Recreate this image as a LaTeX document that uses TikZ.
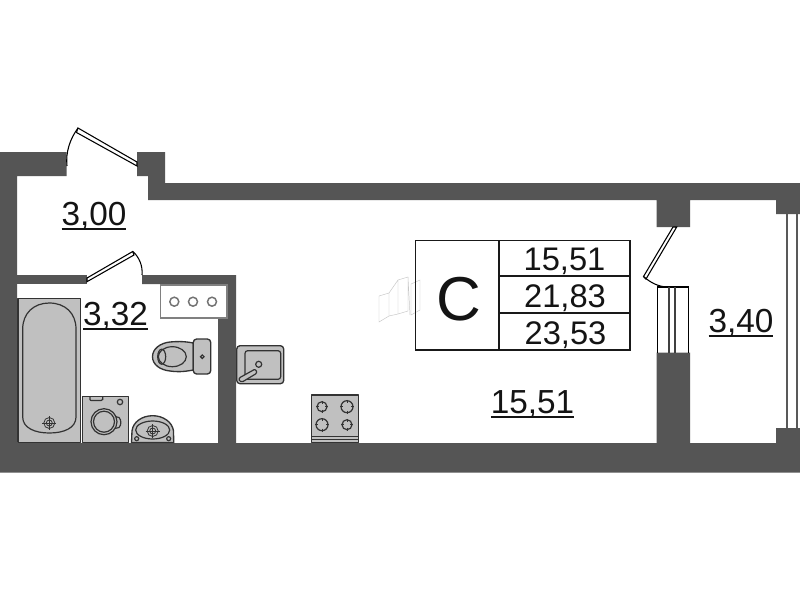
\documentclass[tikz,border=0pt]{standalone}
\usepackage{fontspec}
\setmainfont{Liberation Sans}
\definecolor{wall}{HTML}{555555}
\definecolor{fix}{HTML}{C0C0C0}
\definecolor{ink}{HTML}{333333}
\newcommand{\ulbl}[1]{\leavevmode\setbox0=\hbox{#1}\rlap{\rule[-3.4pt]{\wd0}{1.5pt}}\box0}
\newcommand{\crosshair}[2]{%
  \draw[fixline,line width=.6pt] (#1,#2) circle (5.5);
  \draw[fixline,line width=.6pt] (#1,#2) circle (3);
  \draw[fixline,line width=.6pt] (#1-7,#2) -- (#1+7,#2) (#1,#2-7) -- (#1,#2+7);}
\newcommand{\burner}[3]{%
  \draw[fixline] (#1,#2) circle (#3);
  \draw[fixline,line width=.6pt] (#1-#3-.8,#2) -- (#1-#3+2,#2) (#1+#3-2,#2) -- (#1+#3+.8,#2)
     (#1,#2-#3-.8) -- (#1,#2-#3+2) (#1,#2+#3-2) -- (#1,#2+#3+.8);}
\tikzset{
  wallfill/.style={fill=wall,draw=none},
  fixbody/.style={fill=fix,draw=ink,line width=1pt,line join=round},
  fixline/.style={draw=ink,line width=.9pt},
  thin line/.style={draw=black,line width=.8pt},
  area/.style={font=\fontsize{25}{30}\selectfont,anchor=base,inner sep=0pt,text=black!92},
  cell/.style={font=\fontsize{24.5}{30}\selectfont,anchor=base,inner sep=0pt,text=black!92},
  table line/.style={draw=black!90,line width=1.4pt}
}
\begin{document}
\begin{tikzpicture}[x=0.75pt,y=-0.75pt]
\useasboundingbox (0,0) rectangle (800,600);
\fill[white] (0,0) rectangle (800,600);
% walls
\fill[wallfill] (0,152) -- (66.5,152) -- (66.5,176) -- (17,176) -- (17,443) -- (656.5,443) -- (656.5,352.7)
  -- (690,352.7) -- (690,443) -- (776,443) -- (776,428) -- (800,428) -- (800,472.5) -- (0,472.5) -- cycle;
\fill[wallfill] (137,152) -- (165,152) -- (165,183) -- (800,183) -- (800,214) -- (776,214) -- (776,200)
  -- (690,200) -- (690,227) -- (656.5,227) -- (656.5,200) -- (148,200) -- (148,176) -- (137,176) -- cycle;
\fill[wallfill] (17,275) -- (87,275) -- (87,284) -- (17,284) -- cycle;
\fill[wallfill] (142,275) -- (236,275) -- (236,443) -- (218,443) -- (218,284) -- (142,284) -- cycle;
% doors
\draw[thin line,fill=white] (78,128) -- (137,162) -- (137,166) -- (76.5,132.5) -- cycle;
\draw[thin line] (78,128) .. controls (70,139) and (65.5,152) .. (67,166);
\draw[thin line,fill=white] (87,278) -- (132.7,251.5) -- (134,255) -- (87,281.7) -- cycle;
\draw[thin line] (133,251.5) .. controls (139,257) and (143,266) .. (142,275);
\draw[thin line,fill=white] (673,227) -- (643.5,276.5) -- (646,279) -- (676.7,227) -- cycle;
\draw[thin line] (644,277) .. controls (650,282) and (658,287) .. (668,287);
% balcony door
\draw[thin line] (657.5,352.7) -- (657.5,287) -- (688.7,287) -- (688.7,352.7);
\draw[draw=black!75,line width=.8pt] (669,287) -- (669,352.7) (675,287) -- (675,352.7);
% window
\draw[draw=black!65,line width=.9pt] (787,214) -- (787,428) (797,214) -- (797,428);
% bath
\draw[fixbody] (18,298.3) rectangle (80.7,442.7);
\draw[fixline] (22.7,329) .. controls (22.7,313) and (34,303) .. (49.3,303)
  .. controls (65,303) and (76,313) .. (76,329) -- (76,417)
  .. controls (76,428) and (64,433) .. (49.3,433) .. controls (35,433) and (22.7,428) .. (22.7,417) -- cycle;
\crosshair{49.3}{423}
% washer
\draw[fixbody] (82.3,396.7) rectangle (128.7,442.7);
\draw[fixline] (90,396.7) -- (90,399.5) .. controls (90,400.5) and (91,400.5) .. (92,400.5) -- (101,400.5) .. controls (102,400.5) and (102.7,400.5) .. (102.7,399.5) -- (102.7,396.7);
\draw[fixline] (115,416.5) -- (119,417.5) .. controls (121.5,420) and (121.5,425) .. (119,427.5) -- (115,428.5);
\draw[fixline] (104,421.7) circle (13);
\draw[fixline] (104,421.7) circle (10.5);
\draw[fixline] (120,402) circle (2.7);
% basin
\draw[fixbody] (131.5,442.5) -- (132,431) .. controls (133,422) and (142,415.7) .. (152.7,415.7)
  .. controls (163,415.7) and (172.5,422) .. (173.5,431) -- (173.7,442.5) -- cycle;
\draw[fixline] (152.7,430) ellipse (17 and 9);
\crosshair{152.7}{431}
\draw[fixline] (136.7,438.7) circle (2);
\draw[fixline] (168.7,438.7) circle (2);
% shelf
\draw[fill=white,draw=black!50,line width=1.3pt] (160.5,285) rectangle (227,318);
\foreach \cx in {174.3,193,212}{\draw[draw=black!55,line width=1.1pt] (\cx,301.7) circle (4.5);}
% toilet
\draw[fixbody] (193.3,343) .. controls (183,341) and (176,341.5) .. (170,342)
  .. controls (160,343) and (152.5,349) .. (152.5,356.7)
  .. controls (152.5,364.5) and (160,370) .. (170,371) .. controls (176,372) and (183,372) .. (193.3,370) -- cycle;
\draw[fixline] (172.3,356.7) ellipse (14 and 10);
\draw[fixline] (161.7,356.7) ellipse (4 and 7.5);
\draw[fixbody,rounded corners=2.5] (193.3,339) rectangle (210.7,374);
\draw[fixline] (202.3,356.7) circle (1.8);
% sink
\draw[fixbody,rounded corners=2.5] (236.7,345.7) rectangle (283.7,383.7);
\draw[fixline,rounded corners=2] (245,350.7) rectangle (280.7,379.3);
\draw[fixline] (258.7,364.3) circle (3);
\draw[fixline,fill=fix,line cap=round] (240.5,377.2) -- (254,369.7) .. controls (256.5,369) and (257.5,373) .. (255.5,374) -- (243,381.5) .. controls (239,382.5) and (238,378.5) .. (240.5,377.2);
% stove
\draw[fixbody] (311.7,395) rectangle (358.7,442.7);
\draw[fixline] (311.7,436.7) -- (358.7,436.7) (311.7,439.3) -- (358.7,439.3);
\burner{322}{406.7}{5}
\burner{347}{406.7}{6}
\burner{322}{424.7}{6}
\burner{347}{424.7}{5}
% faint sketch
\draw[draw=black!22,line width=.35pt] (379,296) -- (389,293) -- (389,316) -- (379,322) -- cycle
  (389,293) -- (398,280) -- (408,277) -- (408,311) -- (398,314) -- (389,316) (398,280) -- (398,314)
  (411,284) -- (420,280) -- (420,310) -- (411,315) -- cycle (408,277) -- (410,315);
% table
\draw[table line] (415.5,240.5) rectangle (630,349.7);
\draw[table line] (498.7,240.5) -- (498.7,349.7) (498.7,276) -- (630,276) (498.7,313) -- (630,313);
\node[inner sep=0pt,anchor=base,font=\fontsize{46.5}{50}\selectfont,text=black!92] (grade) at (458.5,320.5) {С};
\node[cell] (cella) at (564.5,270.5) {15,51};
\node[cell] (cellb) at (565,307.7) {21,83};
\node[cell] (cellc) at (565.5,344.7) {23,53};
% areas
\node[area] (hall) at (94,225) {\ulbl{3,00}};
\node[area] (bathroom) at (115.5,325) {\ulbl{3,32}};
\node[area] (room) at (532.5,413.5) {\ulbl{15,51}};
\node[area] (loggia) at (741,332) {\ulbl{3,40}};
\end{tikzpicture}
\end{document}
